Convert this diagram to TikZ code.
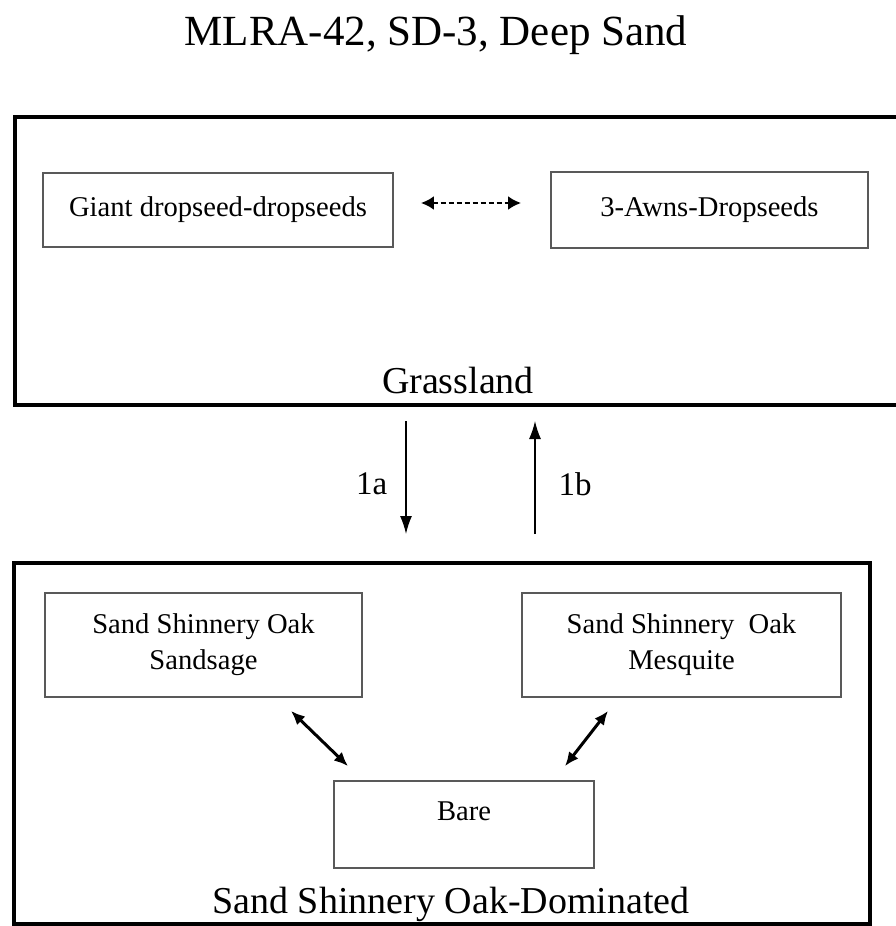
\documentclass[tikz,border=0pt]{standalone}
\usepackage{fontspec}
\setmainfont{Liberation Serif}
\usetikzlibrary{arrows.meta}

\begin{document}
\begin{tikzpicture}[x=0.5pt, y=-0.5pt,
    phase/.style={draw=black, line width=2pt, fill=white, inner sep=0pt},
    phasename/.style={font=\fontsize{19}{23}\selectfont, inner sep=0pt},
    stbox/.style={draw=black!65, line width=0.9pt, fill=white, align=center, inner sep=0pt, font=\fontsize{14.3}{18}\selectfont},
    trans/.style={line width=0.7pt, -{Latex[length=9pt,width=6pt]}},
    twoway/.style={line width=1.5pt, {Latex[length=7pt,width=6pt]}-{Latex[length=7pt,width=6pt]}},
    dashflow/.style={line width=1.3pt, dash pattern=on 2.5pt off 1.5pt, {Latex[length=6.5pt,width=7pt]}-{Latex[length=6.5pt,width=7pt]}}]
    \useasboundingbox (0,0) rectangle (895,926);

    % Заголовок
    \node[anchor=base, font=\fontsize{21.5}{26}\selectfont] (title) at (436,45) {MLRA-42, SD-3, Deep Sand};

    % Травянистое состояние
    \node[phase, minimum width=443pt, minimum height=144pt] (grass) at (457.5,261) {};
    \node[phasename, anchor=base] (grassname) at (458,393) {Grassland};
    \node[stbox, minimum width=175pt, minimum height=37pt] (giant) at (218,210) {Giant dropseed-dropseeds};
    \node[stbox, minimum width=158.5pt, minimum height=38pt] (awns) at (709.5,210) {3-Awns-Dropseeds};
    \draw[dashflow, shorten <=13.5pt, shorten >=14.5pt] ([yshift=3.5pt]giant.east) -- ([yshift=3.5pt]awns.west);

    % Состояние с дубом
    \node[phase, minimum width=428pt, minimum height=180.5pt] (oak) at (442,743.5) {};
    \node[phasename, anchor=base] (oakname) at (451,913) {Sand Shinnery Oak-Dominated};
    \node[stbox, minimum width=158.5pt, minimum height=52pt] (sandsage) at (203.5,645) {Sand Shinnery Oak\\Sandsage};
    \node[stbox, minimum width=159.5pt, minimum height=52pt] (mesquite) at (681.5,645) {Sand Shinnery\ \ Oak\\Mesquite};
    \node[stbox, minimum width=130pt, minimum height=43.5pt, text depth=13pt] (bare) at (464,824.5) {Bare};
    \draw[twoway] ([xshift=43.75pt,yshift=-6.5pt]sandsage.south) -- ([xshift=-58pt,yshift=7pt]bare.north);
    \draw[twoway] ([xshift=-36.75pt,yshift=-6.5pt]mesquite.south) -- ([xshift=50.5pt,yshift=7pt]bare.north);

    % Переходы между состояниями
    \coordinate (down) at (406,0);
    \coordinate (up) at (535,0);
    \draw[trans, shorten <=7pt, shorten >=13.5pt] (grass.south -| down) -- node[phasename, font=\fontsize{16.5}{19}\selectfont, left=9pt] {1a} (oak.north -| down);
    \draw[trans, shorten <=13.5pt, shorten >=7pt] (oak.north -| up) -- node[phasename, font=\fontsize{16.5}{19}\selectfont, right=11.5pt] {1b} (grass.south -| up);
\end{tikzpicture}
\end{document}
